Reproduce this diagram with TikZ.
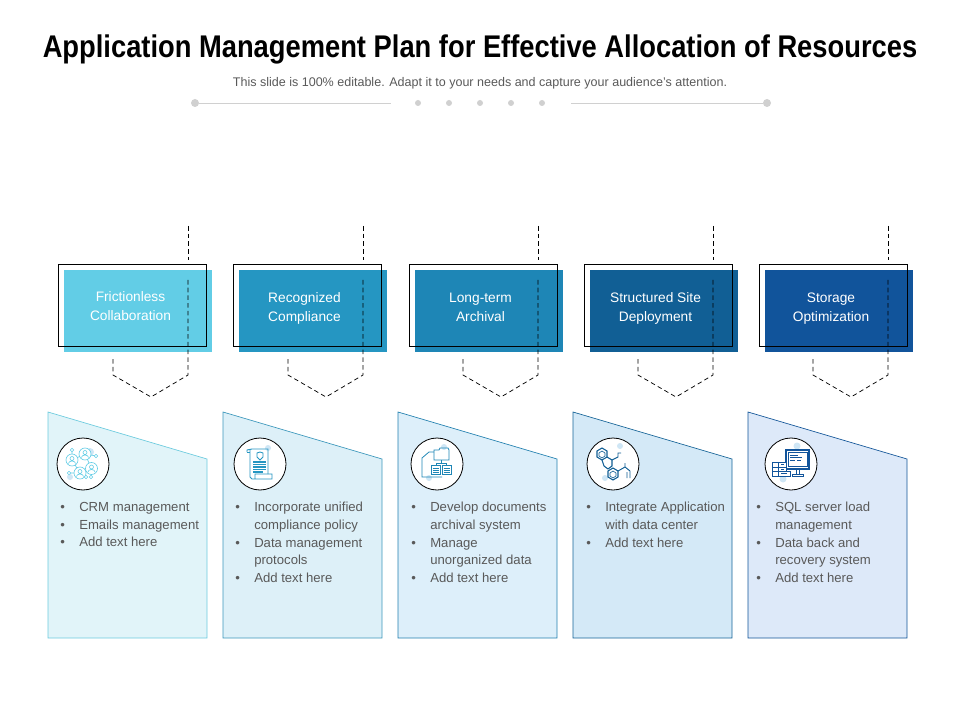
\documentclass[tikz,border=0pt]{standalone}
\usepackage{fontspec}
\setmainfont{Liberation Sans}
\usepackage{xcolor}
\usetikzlibrary{arrows.meta,calc}

\definecolor{headA}{HTML}{62CDE6}
\definecolor{headB}{HTML}{2596C2}
\definecolor{headC}{HTML}{1E86B6}
\definecolor{headD}{HTML}{115F95}
\definecolor{headE}{HTML}{11549B}
\definecolor{panelA}{HTML}{E1F4F9}
\definecolor{panelB}{HTML}{DDF0F8}
\definecolor{panelC}{HTML}{DDEFFA}
\definecolor{panelD}{HTML}{D4E9F7}
\definecolor{panelE}{HTML}{DDE9F9}
\definecolor{edgeA}{HTML}{6CCBDE}
\definecolor{edgeB}{HTML}{3C97BB}
\definecolor{edgeC}{HTML}{2280AF}
\definecolor{edgeD}{HTML}{166497}
\definecolor{edgeE}{HTML}{125598}
\definecolor{bodygray}{HTML}{595959}
\definecolor{dotgray}{HTML}{D0D0D0}
\definecolor{blob}{HTML}{CFE6F5}

\newcommand{\bul}{\llap{\textbullet\hspace{10.8pt}}}

\tikzset{
  headbox/.style={minimum width=111pt,minimum height=61.5pt,inner sep=0pt},
  framebox/.style={draw=black,line width=0.7pt,minimum width=111pt,minimum height=61.5pt,inner sep=0pt},
  headtext/.style={text=white,align=center,font=\fontsize{10.3}{14.2}\selectfont,inner sep=0pt},
  bodytext/.style={text=bodygray,align=left,anchor=north west,inner sep=0pt,font=\fontsize{9.85}{13.3}\selectfont},
  badge/.style={circle,draw=black,fill=white,line width=0.6pt,minimum size=39pt,inner sep=0pt},
  dotnode/.style={circle,fill=dotgray,inner sep=0pt,minimum size=#1},
  dashline/.style={draw=black,dashed,dash pattern=on 3.4pt off 2.4pt,line width=0.55pt},
  pics/dashchevron/.style={code={
    \coordinate (-a) at (188,226);
    \coordinate (-b) at (188,260);
    \coordinate (-c) at (188,280);
    \coordinate (-d) at (188,375);
    \coordinate (-e) at (151,397);
    \coordinate (-f) at (113,375);
    \coordinate (-g) at (113,357);
    \draw[dashline] (-a) -- (-b);
    \draw[dashline] (-c) -- (-d) -- (-e) -- (-f) -- (-g);
  }},
  pics/iconcrm/.style={code={
    \fill[blob] (7,-12) circle (4);
    \fill[blob] (-13,13) circle (3);
    \draw[#1,line width=0.5pt] (-11,-4) -- (2,-10) (2,-10) -- (8.5,4.5) (-3,9) -- (8.5,4.5) (-11,-4) -- (-3,9)
      (-11,-4) -- (-11,-14) (2,-10) -- (13,-8) (-3,9) -- (-14,9) (8.5,4.5) -- (8,13) (-3,9) -- (3,13);
    \foreach \px/\py in {-11/-4,2/-10,8.5/4.5,-3/9}{
      \filldraw[#1,fill=white,line width=0.5pt] (\px,\py) circle (6);
      \draw[#1,line width=0.45pt] (\px,\py-1.5) circle (2) (\px-3.5,\py+3.5) arc (180:360:3.5 and 2.5);
    }
    \foreach \px/\py in {-11/-14,13/-8,-14/9,8/13,3/13}{
      \filldraw[#1,fill=white,line width=0.45pt] (\px,\py) circle (1.8);
    }
  }},
  pics/iconscroll/.style={code={
    \fill[blob] (8,-16) circle (3);
    \draw[#1,line width=0.7pt] (-13,-12) -- (-13,-14) -- (-8,-15) -- (8,-15) -- (8,10);
    \draw[#1,line width=0.7pt] (-13,-12) -- (-10,-12);
    \draw[#1,line width=0.7pt] (-10,-15) -- (-10,13) -- (-8,15) -- (12,15) -- (12,10) -- (-5,10) -- (-5,15);
    \draw[#1,line width=0.6pt] (-3,-11) -- (0,-12) -- (3,-11) -- (3,-7) -- (0,-4) -- (-3,-7) -- cycle;
    \draw[#1,line width=0.8pt] (-7,-2) -- (6,-2) (-7,0.5) -- (6,0.5) (-7,3) -- (6,3) (-7,5.5) -- (6,5.5) (-7,8) -- (3,8);
  }},
  pics/iconfolder/.style={code={
    \fill[blob] (7,-17) circle (3);
    \fill[blob] (-8,14) circle (3);
    \draw[#1,line width=0.6pt] (-3,-4) -- (-3,-14) -- (2,-14) -- (3,-16) -- (11,-16) -- (12,-14) -- (12,-4) -- cycle;
    \draw[#1,line width=0.6pt] (-3,-12) -- (-8,-12) -- (-15,-6) -- (-15,13) -- (5,13);
    \draw[#1,line width=0.5pt] (4,-4) -- (4,-1) (-1,-1) -- (9,-1) (-1,-1) -- (-1,1) (9,-1) -- (9,1);
    \draw[#1,line width=0.6pt,fill=white] (-6,1) rectangle (3.5,10);
    \draw[#1,line width=0.6pt,fill=white] (5,1) rectangle (14,10);
    \draw[#1,line width=0.5pt] (-4.5,4) -- (2,4) (-4.5,6) -- (2,6) (-4.5,8) -- (2,8) (6.5,4) -- (12.5,4) (6.5,6) -- (12.5,6) (6.5,8) -- (12.5,8);
  }},
  pics/iconmolecule/.style={code={
    \fill[blob] (7,-18) circle (3);
    \fill[blob] (-8,14) circle (3);
    \draw[#1,line width=0.8pt] (-11,-16) -- (-6,-13) -- (-6,-7) -- (-11,-4) -- (-16,-7) -- (-16,-13) -- cycle;
    \draw[#1,line width=0.5pt] (-11,-13) -- (-8,-11) -- (-8,-8) -- (-11,-6) -- (-14,-8) -- (-14,-11) -- cycle;
    \draw[#1,line width=0.8pt] (-6,-7) -- (-1,-4) -- (-1,2) -- (-5,5) (-11,-4) -- (-9,2) -- (-5,5);
    \draw[#1,line width=0.8pt] (0,4) -- (5,7) -- (5,13) -- (0,16) -- (-5,13) -- (-5,7) -- cycle;
    \draw[#1,line width=0.5pt] (0,7) -- (3,9) -- (3,12) -- (0,14) -- (-3,12) -- (-3,9) -- cycle;
    \draw[#1,line width=0.7pt] (-1,-4) -- (5,-7) -- (5,-11) -- (8,-11) (5,7) -- (12,3) -- (17,7) (12,3) -- (12,-1) (17,7) -- (17,14) (14,8) -- (14,14);
  }},
  pics/iconmonitor/.style={code={
    \fill[blob] (6,-18) circle (3.5);
    \fill[blob] (-8,15) circle (3.5);
    \draw[#1,line width=0.8pt,fill=white] (-5,-14) rectangle (18,5);
    \draw[#1,line width=0.5pt] (-3,-12) rectangle (16,2);
    \draw[#1,line width=0.6pt] (-1,-9) -- (7,-9) (-1,-6.5) -- (11,-6.5) (-1,-4) -- (4,-4) (6,-4) -- (10,-4);
    \draw[#1,line width=0.7pt] (5,5) -- (5,10) (8,5) -- (8,10) (1,12) -- (1,10) -- (12,10) -- (12,12) -- cycle;
    \draw[#1,line width=0.7pt,fill=white] (-19,-2) rectangle (-5,3);
    \draw[#1,line width=0.7pt,fill=white] (-19,3) rectangle (-5,7.5);
    \draw[#1,line width=0.7pt,fill=white] (-19,7.5) rectangle (-1,12);
    \draw[#1,line width=0.6pt] (-13,-2) -- (-13,12);
    \draw[#1,line width=0.6pt] (-10,0.5) -- (-7,0.5) (-10,5.2) -- (-7,5.2) (-10,9.8) -- (-4,9.8);
  }}
}

\begin{document}
\begin{tikzpicture}[x=0.75pt,y=-0.75pt]
  \useasboundingbox (0,0) rectangle (960,720);

  % title block
  \node[inner sep=0pt,font=\fontsize{23.5}{27}\bfseries\selectfont] (title) at (480,49.5) {\scalebox{0.872}[1]{Application Management Plan for Effective Allocation of Resources}};
  \node[inner sep=0pt,text=bodygray,font=\fontsize{9.4}{11}\selectfont] (subtitle) at (480,83) {This slide is 100\% editable. Adapt it to your needs and capture your audience's attention.};

  \node[dotnode=6pt] (endL) at (195,103) {};
  \node[dotnode=6pt] (endR) at (767,103) {};
  \coordinate (ruleL) at (391,103);
  \coordinate (ruleR) at (571,103);
  \draw[dotgray,line width=0.6pt] (endL) -- (ruleL);
  \draw[dotgray,line width=0.6pt] (ruleR) -- (endR);
  \node[dotnode=4.5pt] (dot1) at (418,103) {};
  \node[dotnode=4.5pt] (dot2) at (449,103) {};
  \node[dotnode=4.5pt] (dot3) at (480,103) {};
  \node[dotnode=4.5pt] (dot4) at (511,103) {};
  \node[dotnode=4.5pt] (dot5) at (542,103) {};

  % header boxes
  \node[headbox,fill=headA] (head1) at (138,311) {};
  \node[headbox,fill=headB] (head2) at (313,311) {};
  \node[headbox,fill=headC] (head3) at (488.5,311) {};
  \node[headbox,fill=headD] (head4) at (663.5,311) {};
  \node[headbox,fill=headE] (head5) at (838.5,311) {};

  \node[framebox] (frame1) at (132.5,305) {};
  \node[framebox] (frame2) at (307.5,305) {};
  \node[framebox] (frame3) at (483,305) {};
  \node[framebox] (frame4) at (658,305) {};
  \node[framebox] (frame5) at (833,305) {};

  \pic (arrow1) at (0,0) {dashchevron};
  \pic (arrow2) at (175,0) {dashchevron};
  \pic (arrow3) at (350,0) {dashchevron};
  \pic (arrow4) at (525,0) {dashchevron};
  \pic (arrow5) at (700,0) {dashchevron};

  \node[headtext] (label1) at (130.5,306.4) {Frictionless\\Collaboration};
  \node[headtext] (label2) at (304.5,308) {Recognized\\Compliance};
  \node[headtext] (label3) at (480.5,307) {Long-term\\Archival};
  \node[headtext] (label4) at (655.5,308) {Structured Site\\Deployment};
  \node[headtext] (label5) at (831,309) {Storage\\Optimization};

  % lower panels
  \draw[fill=panelA,draw=edgeA,line width=0.5pt] (48,412) -- (207,459) -- (207,638) -- (48,638) -- cycle;
  \draw[fill=panelB,draw=edgeB,line width=0.5pt] (223,412) -- (382,459) -- (382,638) -- (223,638) -- cycle;
  \draw[fill=panelC,draw=edgeC,line width=0.5pt] (398,412) -- (557,459) -- (557,638) -- (398,638) -- cycle;
  \draw[fill=panelD,draw=edgeD,line width=0.5pt] (573,412) -- (732,459) -- (732,638) -- (573,638) -- cycle;
  \draw[fill=panelE,draw=edgeE,line width=0.5pt] (748,412) -- (907,459) -- (907,638) -- (748,638) -- cycle;

  \node[badge] (badge1) at (83,464) {};
  \node[badge] (badge2) at (260,464) {};
  \node[badge] (badge3) at (437,464) {};
  \node[badge] (badge4) at (613,464) {};
  \node[badge] (badge5) at (791,464) {};

  \pic at (83,464) {iconcrm={headA}};
  \pic at (260,464) {iconscroll={headB}};
  \pic at (437,464) {iconfolder={headC}};
  \pic at (613,464) {iconmolecule={headD}};
  \pic at (791,464) {iconmonitor={headE}};

  \node[bodytext] (list1) at (79,502) {\bul CRM management\\\bul Emails management\\\bul Add text here};
  \node[bodytext] (list2) at (254,502) {\bul Incorporate unified\\compliance policy\\\bul Data management\\protocols\\\bul Add text here};
  \node[bodytext] (list3) at (430,502) {\bul Develop documents\\archival system\\\bul Manage\\unorganized data\\\bul Add text here};
  \node[bodytext] (list4) at (605,502) {\bul Integrate Application\\with data center\\\bul Add text here};
  \node[bodytext] (list5) at (775,502) {\bul SQL server load\\management\\\bul Data back and\\recovery system\\\bul Add text here};
\end{tikzpicture}
\end{document}
